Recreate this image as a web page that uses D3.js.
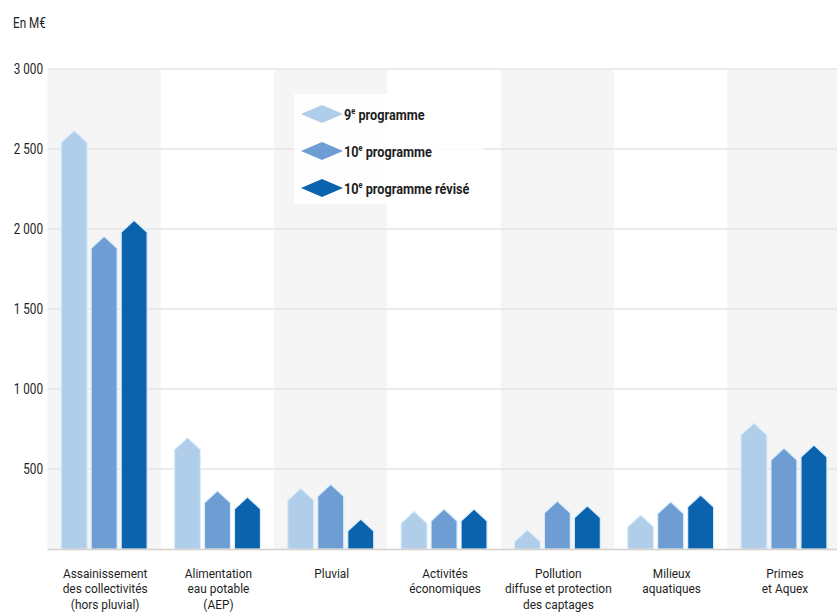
<!DOCTYPE html>
<html>
<head>
<meta charset="utf-8">
<script src="https://cdn.jsdelivr.net/npm/d3@7"></script>
<style>
  html, body { margin: 0; padding: 0; background: #fff; }
  svg { display: block; }
  text { font-family: "Roboto", "Liberation Sans", sans-serif; fill: #1e1e1e; }
</style>
</head>
<body>
<svg id="chart" width="837" height="614"></svg>
<script>
// Budget par domaine d'intervention (M€)
const categories = [
  "Assainissement\ndes collectivités\n(hors pluvial)",
  "Alimentation\neau potable\n(AEP)",
  "Pluvial",
  "Activités\néconomiques",
  "Pollution\ndiffuse et protection\ndes captages",
  "Milieux\naquatiques",
  "Primes\net Aquex"
];
const seriesNames = ["9e programme", "10e programme", "10e programme révisé"];
const seriesColors = ["#b0cdea", "#6d9dd3", "#0b62ad"];
const values9 = [2540, 620, 305, 160, 45, 137, 712];
const values10 = [1880, 288, 330, 175, 225, 220, 556];
const values10r = [1980, 250, 112, 175, 195, 262, 575];
const yTicks = [500, 1000, 1500, 2000, 2500, 3000];

const seriesValues = [values9, values10, values10r];

const svg = d3.select("#chart");
const plotLeft = 47.5, plotRight = 840.6, plotTop = 69, plotBottom = 549;
const narrow = 0.78; // horizontal squeeze for a condensed look

const x0 = d3.scaleBand().domain(categories).range([plotLeft, plotRight]);
const x1 = d3.scaleBand().domain(seriesNames).range([-43, 43]).paddingInner(4 / 30);
const y = d3.scaleLinear().domain([0, 3000]).range([plotBottom, plotTop]);

// Places a squeezed text at (x, y)
function label(parent, x, yy, str, size, anchor, squeeze) {
  return parent.append("text")
    .attr("transform", `translate(${x},${yy}) scale(${squeeze || narrow},1)`)
    .attr("text-anchor", anchor || "start")
    .attr("font-size", size)
    .text(str);
}

// Alternating background bands
svg.append("g").selectAll("rect")
  .data(categories)
  .join("rect")
  .attr("x", d => x0(d))
  .attr("y", plotTop + 1)
  .attr("width", x0.step())
  .attr("height", plotBottom - plotTop - 1)
  .attr("fill", (d, i) => i % 2 === 0 ? "#f5f5f5" : "#ffffff");

// Gridlines
svg.append("g").selectAll("line")
  .data(yTicks)
  .join("line")
  .attr("x1", plotLeft).attr("x2", 837)
  .attr("y1", d => y(d)).attr("y2", d => y(d))
  .attr("stroke", "#e4e4e4")
  .attr("stroke-width", 1.5);

// Y axis labels (space as thousands separator)
const fmt = v => d3.format(",")(v).replace(/,/g, " ");
const yLab = svg.append("g");
yTicks.forEach(t => label(yLab, 43, y(t) + 5, fmt(t), 15, "end"));

label(svg, 13, 28, "En M€", 15, "start");

// Legend panel
const legend = svg.append("g");
legend.append("rect")
  .attr("x", 294).attr("y", 94).attr("width", 190).attr("height", 110)
  .attr("fill", "#fff").attr("opacity", 0.85);

const legendY = [114, 151, 188];
seriesNames.forEach((name, i) => {
  const cy = legendY[i], cx = 322, hw = 21, hh = 9;
  legend.append("path")
    .attr("d", `M${cx - hw},${cy} L${cx},${cy - hh} L${cx + hw},${cy} L${cx},${cy + hh} Z`)
    .attr("fill", seriesColors[i]);
  const t = label(legend, 344, cy + 5.5, "", 15.5, "start", 0.82)
    .attr("font-weight", "bold");
  const m = name.match(/^(\d+)e (.*)$/);
  t.append("tspan").text(m[1]);
  t.append("tspan").attr("font-size", 9).attr("dy", -6).text("e");
  t.append("tspan").attr("dy", 6).text(" " + m[2]);
});

// Bars with pointed caps
const capH = 12;
const bars = svg.append("g");
categories.forEach((cat, ci) => {
  const cx = x0(cat) + x0.bandwidth() / 2;
  seriesNames.forEach((s, si) => {
    const v = seriesValues[si][ci];
    const bx = cx + x1(s), bw = x1.bandwidth();
    const yt = y(v), yb = y(0);
    bars.append("path")
      .attr("d", `M${bx},${yb} L${bx},${yt} L${bx + bw / 2},${yt - capH} L${bx + bw},${yt} L${bx + bw},${yb} Z`)
      .attr("fill", seriesColors[si])
      .attr("stroke", "#dcedfc")
      .attr("stroke-width", 1.2);
  });
});

// Baseline
svg.append("line")
  .attr("x1", plotLeft).attr("x2", 837)
  .attr("y1", plotBottom + 0.5).attr("y2", plotBottom + 0.5)
  .attr("stroke", "#d6d0cb").attr("stroke-width", 1.5);

// Category labels, one text element per category with a tspan per line
const catLab = svg.append("g");
categories.forEach(cat => {
  const cx = x0(cat) + x0.bandwidth() / 2 + 1;
  const t = label(catLab, cx, 578, "", 13.5, "middle", 0.88);
  cat.split("\n").forEach((line, i) => {
    t.append("tspan").attr("x", 0).attr("y", i * 15.5).text(line);
  });
});
</script>
</body>
</html>
